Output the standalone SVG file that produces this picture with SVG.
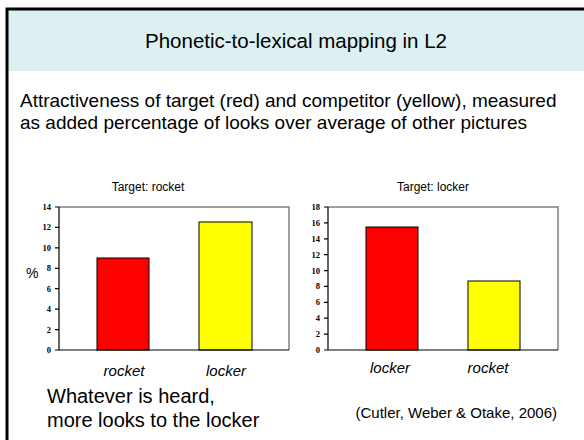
<svg xmlns="http://www.w3.org/2000/svg" width="584" height="440" viewBox="0 0 584 440">
<style>
text{font-family:"Liberation Sans",Arial,sans-serif;fill:#000}
.tick{font-family:"Liberation Serif","Times New Roman",serif;font-weight:bold;font-size:8.5px;text-anchor:end}
.cat{font-style:italic;font-size:15px;text-anchor:middle}
.ct{font-size:12px;text-anchor:middle}
.body{font-size:19px}
.note{font-size:20px}
.axis{stroke:#000;stroke-width:1.2;fill:none}
.frame{stroke:#808080;stroke-width:1.5;fill:none}
.bar{stroke:#000;stroke-width:1}
</style>
<rect x="0" y="0" width="584" height="440" fill="#fff"/>
<g id="header">
<rect x="8" y="10" width="576" height="61" fill="#DCEFF1"/>
<path d="M7 440V9H584" stroke="#000" stroke-width="3" fill="none"/>
<text x="296" y="48" font-size="20.5" text-anchor="middle">Phonetic-to-lexical mapping in L2</text>
</g>
<g id="intro">
<text class="body" x="20" y="107">Attractiveness of target (red) and competitor (yellow), measured</text>
<text class="body" x="20" y="129">as added percentage of looks over average of other pictures</text>
</g>
<g id="chart1">
<text class="ct" x="148" y="191">Target: rocket</text>
<path class="frame" d="M59 207H289V350"/>
<rect class="bar" x="97" y="258" width="52" height="92" fill="#FF0000"/>
<rect class="bar" x="199" y="222" width="53" height="128" fill="#FFFF00"/>
<path class="axis" d="M59 207V350H289M55 207H59M55 227.4H59M55 247.9H59M55 268.3H59M55 288.7H59M55 309.1H59M55 329.6H59M55 350H59"/>
<text class="tick" x="51" y="210">14</text>
<text class="tick" x="51" y="230.4">12</text>
<text class="tick" x="51" y="250.9">10</text>
<text class="tick" x="51" y="271.3">8</text>
<text class="tick" x="51" y="291.7">6</text>
<text class="tick" x="51" y="312.1">4</text>
<text class="tick" x="51" y="332.6">2</text>
<text class="tick" x="51" y="353">0</text>
<text x="26" y="278" font-size="14">%</text>
<text class="cat" x="124" y="376">rocket</text>
<text class="cat" x="226" y="376">locker</text>
</g>
<g id="chart2">
<text class="ct" x="433" y="191">Target: locker</text>
<path class="frame" d="M328 207H558V350"/>
<rect class="bar" x="366" y="227" width="52" height="123" fill="#FF0000"/>
<rect class="bar" x="468" y="281" width="52" height="69" fill="#FFFF00"/>
<path class="axis" d="M328 207V350H558M324 207H328M324 222.9H328M324 238.8H328M324 254.7H328M324 270.6H328M324 286.4H328M324 302.3H328M324 318.2H328M324 334.1H328M324 350H328"/>
<text class="tick" x="320" y="210">18</text>
<text class="tick" x="320" y="225.9">16</text>
<text class="tick" x="320" y="241.8">14</text>
<text class="tick" x="320" y="257.7">12</text>
<text class="tick" x="320" y="273.6">10</text>
<text class="tick" x="320" y="289.4">8</text>
<text class="tick" x="320" y="305.3">6</text>
<text class="tick" x="320" y="321.2">4</text>
<text class="tick" x="320" y="337.1">2</text>
<text class="tick" x="320" y="353">0</text>
<text class="cat" x="390" y="373">locker</text>
<text class="cat" x="488" y="373">rocket</text>
</g>
<g id="notes">
<text class="note" x="47" y="403">Whatever is heard,</text>
<text class="note" x="47" y="427">more looks to the locker</text>
<text x="557" y="418" font-size="15" text-anchor="end">(Cutler, Weber &amp; Otake, 2006)</text>
</g>
</svg>
